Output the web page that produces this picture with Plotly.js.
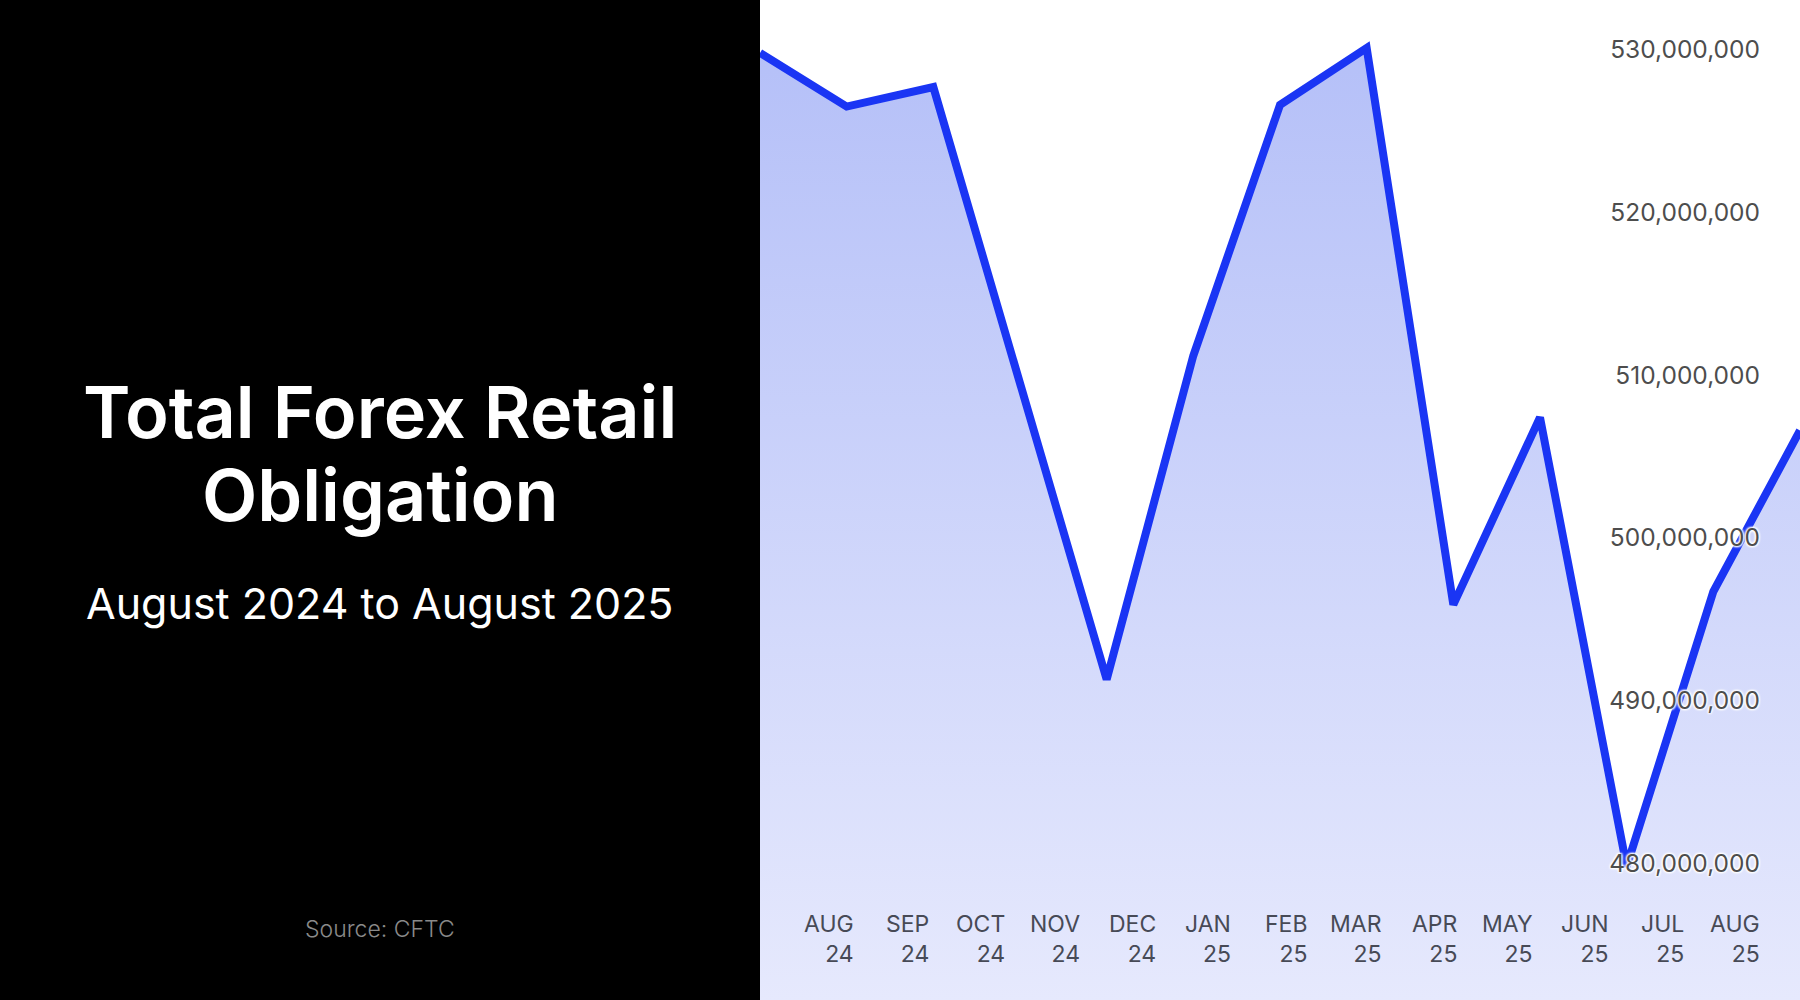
<!DOCTYPE html>
<html>
<head>
<meta charset="utf-8">
<script src="https://cdn.plot.ly/plotly-3.0.1.min.js"></script>
<style>
  html, body { margin: 0; padding: 0; background: #fff; }
  #plot { width: 1800px; height: 1000px; }
</style>
</head>
<body>
<div id="plot"></div>
<script>
// monthly totals, Aug 2024 .. Aug 2025
var months = ['AUG', 'SEP', 'OCT', 'NOV', 'DEC', 'JAN', 'FEB', 'MAR', 'APR', 'MAY', 'JUN', 'JUL', 'AUG'];
var years = ['24', '24', '24', '24', '24', '25', '25', '25', '25', '25', '25', '25', '25'];
var obligation = [529.8e6, 526.5e6, 527.7e6, 509.6e6, 491.3e6, 511.2e6, 526.6e6, 530.1e6,
                  495.9e6, 507.4e6, 479.8e6, 496.7e6, 506.6e6];
var yTicks = [480e6, 490e6, 500e6, 510e6, 520e6, 530e6];

var yRange = [471.6e6, 533.05e6];
var panel = 760 / 1800;

function range(n) {
    return [...Array(n).keys()];
}

var idx = range(obligation.length);

var area = {
    x: idx,
    y: obligation,
    type: 'scatter',
    mode: 'lines',
    line: { color: '#1a35f4', width: 8, shape: 'linear' },
    fill: 'tozeroy',
    fillgradient: {
        type: 'vertical',
        start: yRange[0],
        stop: 530e6,
        colorscale: [[0, '#e6e9fd'], [1, '#b5c0f8']]
    },
    hoverinfo: 'skip',
    showlegend: false
};

// invisible trace so the label axis exists
var labelAxis = {
    x: idx,
    y: obligation,
    xaxis: 'x2',
    type: 'scatter',
    mode: 'lines',
    line: { width: 0, color: 'rgba(0,0,0,0)' },
    hoverinfo: 'skip',
    showlegend: false
};

var annotations = months.map(function (m, i) {
    return {
        xref: 'x2', yref: 'paper',
        x: i, y: 0.0615,
        xanchor: 'right', yanchor: 'middle',
        align: 'right',
        text: m + '<br>' + years[i],
        showarrow: false,
        font: { family: 'Inter', size: 23, color: '#474a56' }
    };
});

annotations.push(
    {
        xref: 'paper', yref: 'paper', x: panel / 2, y: 1 - 411 / 1000,
        xanchor: 'center', yanchor: 'middle', showarrow: false,
        text: 'Total Forex Retail',
        font: { family: 'Inter', size: 72, color: '#ffffff', weight: 600 }
    },
    {
        xref: 'paper', yref: 'paper', x: panel / 2, y: 1 - 494 / 1000,
        xanchor: 'center', yanchor: 'middle', showarrow: false,
        text: 'Obligation',
        font: { family: 'Inter', size: 72, color: '#ffffff', weight: 600 }
    },
    {
        xref: 'paper', yref: 'paper', x: panel / 2, y: 1 - 603 / 1000,
        xanchor: 'center', yanchor: 'middle', showarrow: false,
        text: 'August 2024 to August 2025',
        font: { family: 'Inter', size: 43, color: '#ffffff' }
    },
    {
        xref: 'paper', yref: 'paper', x: panel / 2, y: 1 - 929 / 1000,
        xanchor: 'center', yanchor: 'middle', showarrow: false,
        text: 'Source: CFTC',
        font: { family: 'Inter', size: 23, color: '#8a8a8a', weight: 300 }
    }
);

var halo = '1px 1px 2px #fff, -1px -1px 2px #fff, 1px -1px 2px #fff, -1px 1px 2px #fff';

var layout = {
    width: 1800,
    height: 1000,
    margin: { l: 0, r: 0, t: 0, b: 0, pad: 0 },
    paper_bgcolor: '#ffffff',
    plot_bgcolor: '#ffffff',
    hovermode: false,
    xaxis: {
        domain: [panel, 1],
        range: [0, 12],
        visible: false,
        fixedrange: true
    },
    xaxis2: {
        domain: [panel, 1],
        range: [-1.265, 12.510],
        anchor: 'y',
        overlaying: 'x',
        visible: false,
        fixedrange: true
    },
    yaxis: {
        side: 'right',
        range: yRange,
        tickvals: yTicks,
        tickformat: ',d',
        ticks: '',
        ticklabelposition: 'inside',
        ticklabelstandoff: 37,
        showgrid: false,
        zeroline: false,
        showline: false,
        fixedrange: true,
        tickfont: { family: 'Inter', size: 24.5, color: '#4d4d4d', shadow: halo }
    },
    shapes: [{
        type: 'rect', xref: 'paper', yref: 'paper',
        x0: 0, x1: panel, y0: 0, y1: 1,
        fillcolor: '#000000', line: { width: 0 }, layer: 'above'
    }],
    annotations: annotations
};

Plotly.newPlot('plot', [area, labelAxis], layout, { displayModeBar: false, staticPlot: true });
</script>
</body>
</html>
